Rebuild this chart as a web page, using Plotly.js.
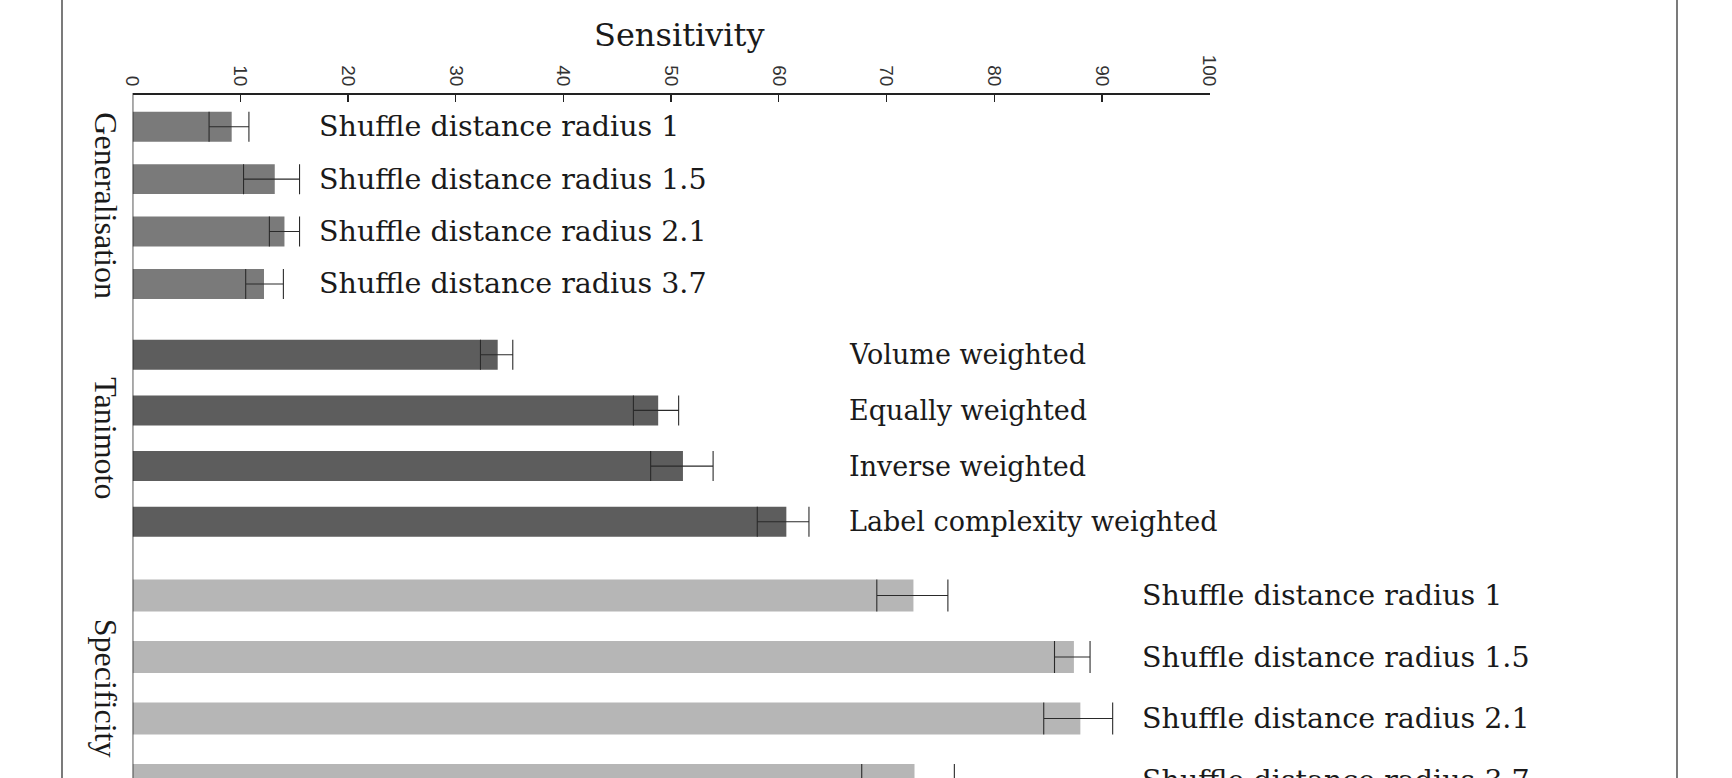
<!DOCTYPE html>
<html>
<head>
<meta charset="utf-8">
<script src="https://cdn.plot.ly/plotly-3.0.1.min.js"></script>
<style>
  html, body { margin: 0; padding: 0; background: #fff; overflow: hidden; }
  #wrap { width: 1732px; height: 778px; overflow: hidden; position: relative; }
  #chart { width: 1732px; height: 820px; }
</style>
</head>
<body>
<div id="wrap"><div id="chart"></div></div>
<script>
// ---------------- data ----------------
const groupNames = ["Generalisation", "Tanimoto", "Specificity"];

const genLabels = ["Shuffle distance radius 1", "Shuffle distance radius 1.5",
                   "Shuffle distance radius 2.1", "Shuffle distance radius 3.7"];
const genMean  = [9.2, 13.2, 14.1, 12.2];
const genLower = [7.1, 10.3, 12.7, 10.5];
const genUpper = [10.8, 15.5, 15.5, 14.0];

const tanLabels = ["Volume weighted", "Equally weighted",
                   "Inverse weighted", "Label complexity weighted"];
const tanMean  = [33.9, 48.8, 51.1, 60.7];
const tanLower = [32.3, 46.5, 48.1, 58.0];
const tanUpper = [35.3, 50.7, 53.9, 62.8];

const speLabels = ["Shuffle distance radius 1", "Shuffle distance radius 1.5",
                   "Shuffle distance radius 2.1", "Shuffle distance radius 3.7"];
const speMean  = [72.5, 87.4, 88.0, 72.6];
const speLower = [69.1, 85.6, 84.6, 67.7];
const speUpper = [75.7, 88.9, 91.0, 76.3];

const xTicks = [0, 10, 20, 30, 40, 50, 60, 70, 80, 90, 100];
const axisTitle = "Sensitivity";

// ---------------- layout helpers ----------------
const W = 1732, H = 820;
const fx = px => px / W;
const fy = py => 1 - py / H;
const axisY = 93;

function plus(m, u) { return m.map((v, i) => u[i] - v); }
function minus(m, l) { return m.map((v, i) => v - l[i]); }

function barTrace(labels, mean, lower, upper, color, yax, width, cap) {
  return {
    type: "bar", orientation: "h",
    x: mean, y: labels, yaxis: yax, xaxis: "x",
    width: width,
    marker: { color: color, line: { width: 0 } },
    error_x: {
      type: "data", symmetric: false,
      array: plus(mean, upper), arrayminus: minus(mean, lower),
      color: "#2a2a2a", thickness: 1.1, width: cap
    },
    hoverinfo: "none"
  };
}

const data = [
  barTrace(genLabels, genMean, genLower, genUpper, "#7a7a7a", "y", 0.57, 15),
  barTrace(tanLabels, tanMean, tanLower, tanUpper, "#5d5d5d", "y2", 0.54, 15),
  barTrace(speLabels, speMean, speLower, speUpper, "#b6b6b6", "y3", 0.52, 16)
];

const yBase = {
  type: "category", range: [3.5, -0.5], visible: false,
  showgrid: false, zeroline: false, fixedrange: true, anchor: "x"
};

const labelFont = { family: "DejaVu Serif", size: 28.5, color: "#1a1a1a" };
const tanFont = { family: "DejaVu Serif", size: 27, color: "#1a1a1a" };

const annotations = [];
function addLabels(labels, yref, xpos, font) {
  labels.forEach((t, i) => annotations.push({
    text: t, xref: "x", yref: yref, x: xpos, y: i,
    xanchor: "left", yanchor: "middle", showarrow: false, font: font
  }));
}
addLabels(genLabels, "y", 17.1, labelFont);
addLabels(tanLabels, "y2", 66.3, tanFont);
addLabels(speLabels, "y3", 93.5, labelFont);

["y", "y2", "y3"].forEach((yr, k) => annotations.push({
  text: groupNames[k], xref: "paper", yref: yr, x: fx(106), y: 1.5,
  xanchor: "center", yanchor: "middle", textangle: 90, showarrow: false,
  font: { family: "Liberation Serif", size: 32, color: "#1a1a1a" }
}));

annotations.push({
  text: axisTitle, xref: "paper", yref: "paper", x: fx(679), y: fy(35),
  xanchor: "center", yanchor: "middle", showarrow: false,
  font: { family: "DejaVu Serif", size: 32, color: "#1a1a1a" }
});

const layout = {
  width: W, height: H,
  margin: { l: 0, r: 0, t: 0, b: 0, pad: 0 },
  paper_bgcolor: "#ffffff", plot_bgcolor: "rgba(0,0,0,0)",
  showlegend: false,
  xaxis: {
    domain: [fx(132.6), fx(1209.6)], range: [0, 100],
    side: "top", anchor: "free", position: fy(axisY),
    tickmode: "array", tickvals: xTicks, ticktext: xTicks.map(String),
    ticks: "inside", ticklen: 7, tickwidth: 1.2, tickcolor: "#222",
    tickangle: 90,
    tickfont: { family: "Liberation Sans", size: 19, color: "#333" },
    showline: true, linecolor: "#222", linewidth: 1.5,
    showgrid: false, zeroline: false, fixedrange: true
  },
  yaxis:  Object.assign({}, yBase, { domain: [fy(310.2), fy(100.5)] }),
  yaxis2: Object.assign({}, yBase, { domain: [fy(549.6), fy(326.9)] }),
  yaxis3: Object.assign({}, yBase, { domain: [fy(810.8), fy(564.8)] }),
  shapes: [
    { type: "line", xref: "x", yref: "paper", x0: 0, x1: 0, y0: 0, y1: fy(axisY),
      line: { color: "#222", width: 1.5 } },
    { type: "line", xref: "paper", yref: "paper", x0: fx(62), x1: fx(62), y0: 0, y1: 1,
      line: { color: "#222", width: 1.2 } },
    { type: "line", xref: "paper", yref: "paper", x0: fx(1677), x1: fx(1677), y0: 0, y1: 1,
      line: { color: "#222", width: 1.2 } }
  ],
  annotations: annotations
};

Plotly.newPlot("chart", data, layout, { staticPlot: true, displayModeBar: false });
</script>
</body>
</html>
